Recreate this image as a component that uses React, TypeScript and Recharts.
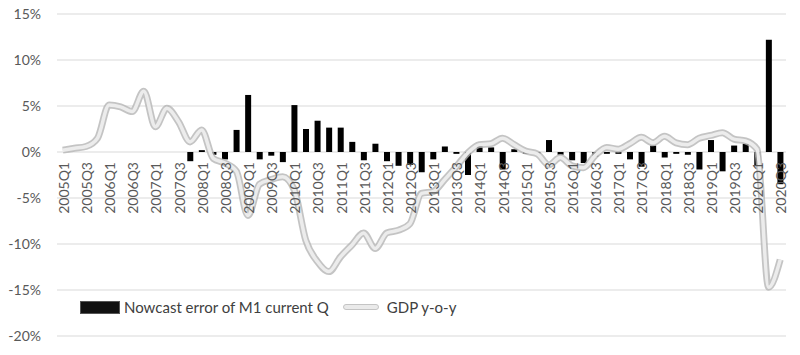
import { ComposedChart, Bar, Line, XAxis, YAxis, CartesianGrid, Legend } from "recharts";

const quarters = [
  "2005Q1", "2005Q2", "2005Q3", "2005Q4", "2006Q1", "2006Q2", "2006Q3", "2006Q4",
  "2007Q1", "2007Q2", "2007Q3", "2007Q4", "2008Q1", "2008Q2", "2008Q3", "2008Q4",
  "2009Q1", "2009Q2", "2009Q3", "2009Q4", "2010Q1", "2010Q2", "2010Q3", "2010Q4",
  "2011Q1", "2011Q2", "2011Q3", "2011Q4", "2012Q1", "2012Q2", "2012Q3", "2012Q4",
  "2013Q1", "2013Q2", "2013Q3", "2013Q4", "2014Q1", "2014Q2", "2014Q3", "2014Q4",
  "2015Q1", "2015Q2", "2015Q3", "2015Q4", "2016Q1", "2016Q2", "2016Q3", "2016Q4",
  "2017Q1", "2017Q2", "2017Q3", "2017Q4", "2018Q1", "2018Q2", "2018Q3", "2018Q4",
  "2019Q1", "2019Q2", "2019Q3", "2019Q4", "2020Q1", "2020Q2", "2020Q3",
];

// nowcast error, % (null = no bar)
const nowcastError = [
  null, null, null, null, null, null, null, null,
  null, null, null, -1.0, 0.2, -0.3, -0.8, 2.4,
  6.2, -0.8, -0.4, -1.1, 5.1, 2.5, 3.4, 2.65,
  2.65, 1.1, -0.9, 0.9, -1.0, -1.5, -1.4, -2.2,
  -0.8, 0.6, -0.2, -2.5, 0.7, 0.5, -1.9, 0.3,
  -0.2, -0.2, 1.3, -0.3, -0.9, -1.2, -0.5, -0.2,
  -0.2, -0.8, -1.6, 0.7, -0.6, -0.2, -0.3, -1.9,
  1.3, -2.1, 0.7, 0.9, -1.5, 12.2, -3.5,
];

// GDP y-o-y, %
const gdpYoy = [
  0.2, 0.4, 0.6, 1.5, 5.1, 4.9, 4.4, 6.6,
  2.75, 4.75, 3.3, 1.1, 2.4, -0.7, -1.2, -2.1,
  -6.9, -3.5, -3.0, -2.7, -4.1, -9.6, -11.9, -13.0,
  -11.4, -10.1, -8.8, -10.5, -8.8, -8.5, -7.8, -4.5,
  -4.3, -3.0, -1.6, -0.1, 0.8, 0.9, 1.5, 0.8,
  0.1, -0.2, -1.4, -0.6, -1.5, -1.7, -0.4, 0.5,
  0.3, 0.9, 1.6, 1.0, 1.7, 1.0, 0.8, 1.5,
  1.8, 2.1, 1.4, 1.2, 0.3, -14.7, -11.7,
];

const yTicks = [-20, -15, -10, -5, 0, 5, 10, 15];

const data = quarters.map((q, i) => ({ q, err: nowcastError[i], gdp: gdpYoy[i] }));

const W = 800;
const H = 355;
const TOP = 14;
const AXIS_H = 19;
const ZERO_Y = TOP + ((H - TOP - AXIS_H) * 15) / 35;

const QuarterTick = ({ x, payload }: any) => (
  <text
    transform={`translate(${x + 6},${ZERO_Y + 10}) rotate(-90)`}
    textAnchor="end"
    fontSize={14}
    fontFamily="Lato"
    fill="#595959"
  >
    {payload.value}
  </text>
);

const LegendBox = () => (
  <div style={{ display: "flex", alignItems: "center", fontFamily: "Lato", fontSize: 15, color: "#404040" }}>
    <span style={{ display: "inline-block", width: 38, height: 11, background: "#111", border: "1px solid #555", marginRight: 4 }} />
    <span>Nowcast error of M1 current Q</span>
    <span style={{ display: "inline-block", width: 34, height: 4, background: "#eaeaea", border: "1px solid #c4c4c4", borderRadius: 3, marginLeft: 14, marginRight: 8 }} />
    <span>GDP y-o-y</span>
  </div>
);

export default function App() {
  return (
    <div style={{ position: "absolute", left: 0, top: 0, background: "#fff" }}>
      <ComposedChart width={W} height={H} data={data} margin={{ top: TOP, right: 14, bottom: 0, left: 7 }}>
        <CartesianGrid vertical={false} stroke="#d9d9d9" strokeWidth={1.2} />
        <XAxis dataKey="q" interval={1} axisLine={false} tickLine={false} height={AXIS_H} tick={<QuarterTick />} />
        <YAxis
          domain={[-20, 15]}
          ticks={yTicks}
          width={50}
          axisLine={false}
          tickLine={false}
          tickSize={0}
          tickMargin={16}
          tickFormatter={(v) => `${v}%`}
          tick={{ fontSize: 14, fontFamily: "Lato", fill: "#595959" }}
        />
        <Legend
          content={<LegendBox />}
          layout="horizontal"
          verticalAlign="middle"
          wrapperStyle={{ position: "absolute", left: 80, top: 298, width: "auto" }}
        />
        <Bar dataKey="err" fill="#000" barSize={6} isAnimationActive={false} legendType="rect" />
        <Line dataKey="gdp" type="monotone" stroke="#b5b5b5" strokeWidth={7} strokeOpacity={0.8} dot={false} isAnimationActive={false} legendType="none" />
        <Line dataKey="gdp" type="monotone" stroke="#ececec" strokeWidth={3.5} dot={false} isAnimationActive={false} />
      </ComposedChart>
    </div>
  );
}
